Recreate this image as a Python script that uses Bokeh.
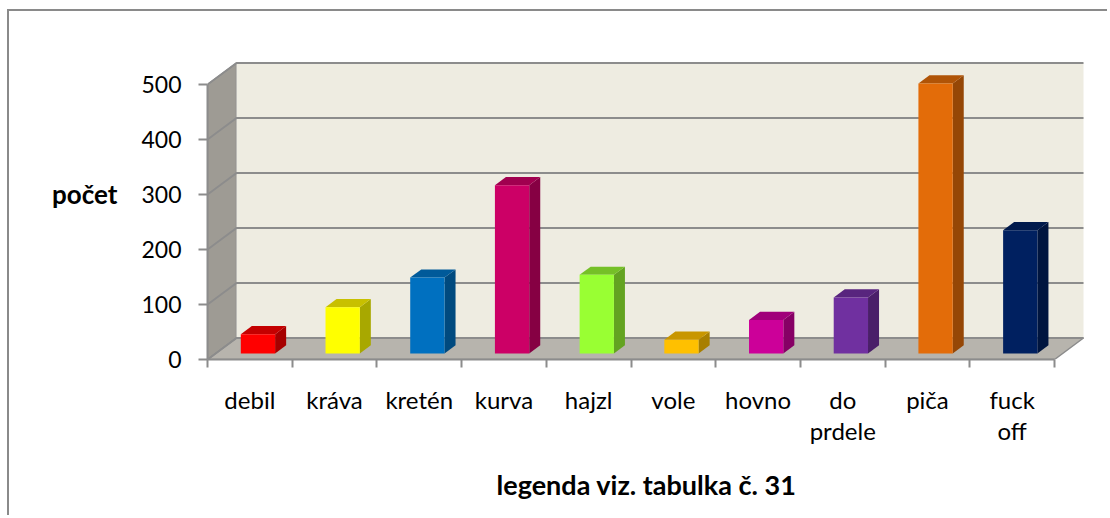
from bokeh.plotting import figure
from bokeh.models import Range1d, FixedTicker, ColumnDataSource
from bokeh.embed import file_html
from bokeh.resources import INLINE

# ---------------- data ----------------
categories = ["debil", "kráva", "kretén", "kurva", "hajzl", "vole", "hovno",
              "do\nprdele", "piča", "fuck\noff"]
values = [35, 84, 138, 306, 143, 25, 61, 102, 491, 224]
front_colors = ["#FF0000", "#FFFF00", "#0070C0", "#CC0066", "#99FF33",
                "#FFC000", "#CC0099", "#7030A0", "#E36C09", "#002060"]
side_colors = ["#A60000", "#A8A800", "#004A7F", "#860043", "#63A321",
               "#A87F00", "#860065", "#4A1F69", "#954706", "#00153F"]
top_colors = ["#C40000", "#C8C000", "#005A9A", "#A0004F", "#75C027",
              "#C89600", "#A0007A", "#58257E", "#B05407", "#001A4C"]
y_ticks = [0, 100, 200, 300, 400, 500]
y_title = "počet"
x_title = "legenda viz. tabulka č. 31"

# ---------------- layout / projection ----------------
FONT = "Lato"
PX_PER_CAT = 84.7
PX_PER_UNIT = 0.55
FRAME_W, FRAME_H = 878, 332
DX = 29 / PX_PER_CAT          # depth offset (category units)
DY = 21.5 / PX_PER_UNIT       # depth offset (value units)
Z0, Z1 = 0.28, 0.66           # bar front / back depth
BAR_W = 0.405
GRID = "#8c8c8c"

n = len(categories)
ymax = y_ticks[-1]

p = figure(frame_width=FRAME_W, frame_height=FRAME_H,
           x_range=Range1d(0, FRAME_W / PX_PER_CAT),
           y_range=Range1d(0, FRAME_H / PX_PER_UNIT),
           min_border_left=198, min_border_right=22,
           min_border_top=16, min_border_bottom=156,
           output_backend="svg", toolbar_location=None)
p.styles = {"border-left": "2px solid #8a8a8a", "border-top": "2px solid #8a8a8a",
            "margin-left": "7px", "margin-top": "9px"}
p.outline_line_color = None
p.xgrid.visible = False
p.ygrid.visible = False
p.background_fill_color = "white"
p.border_fill_color = "white"

# walls
walls = ColumnDataSource(dict(
    xs=[[0, DX, DX, 0], [DX, n + DX, n + DX, DX], [0, n, n + DX, DX]],
    ys=[[0, DY, ymax + DY, ymax], [DY, DY, ymax + DY, ymax + DY], [0, 0, DY, DY]],
    fill=["#9E9B94", "#EEECE1", "#B7B4AD"],
    line=[GRID, None, GRID],
))
p.patches("xs", "ys", source=walls, fill_color="fill", line_color="line", line_width=1.5)

# gridlines on back wall and side wall
gx, gy = [], []
for v in y_ticks:
    gx.append([0, DX, n + DX])
    gy.append([v, v + DY, v + DY])
p.multi_line(gx, gy, line_color=GRID, line_width=2)

# bars (front, side, top faces)
fx, fy, sx, sy, tx, ty = [], [], [], [], [], []
for i, v in enumerate(values):
    l = i + 0.5 - BAR_W / 2
    r = i + 0.5 + BAR_W / 2
    fx.append([l + Z0 * DX, r + Z0 * DX, r + Z0 * DX, l + Z0 * DX])
    fy.append([Z0 * DY, Z0 * DY, v + Z0 * DY, v + Z0 * DY])
    sx.append([r + Z0 * DX, r + Z1 * DX, r + Z1 * DX, r + Z0 * DX])
    sy.append([Z0 * DY, Z1 * DY, v + Z1 * DY, v + Z0 * DY])
    tx.append([l + Z0 * DX, r + Z0 * DX, r + Z1 * DX, l + Z1 * DX])
    ty.append([v + Z0 * DY, v + Z0 * DY, v + Z1 * DY, v + Z1 * DY])
p.patches(sx, sy, fill_color=side_colors, line_color=None)
p.patches(tx, ty, fill_color=top_colors, line_color=None)
p.patches(fx, fy, fill_color=front_colors, line_color=None)

# y axis
ya = p.yaxis[0]
ya.ticker = FixedTicker(ticks=y_ticks, minor_ticks=[])
ya.bounds = (0, ymax)
ya.axis_line_color = GRID
ya.axis_line_width = 2
ya.major_tick_line_color = GRID
ya.major_tick_line_width = 2
ya.major_tick_out = 9
ya.major_tick_in = 0
ya.major_label_standoff = 17
ya.major_label_text_font = FONT
ya.major_label_text_font_size = "23px"
ya.major_label_text_color = "#000000"
ya.axis_label = y_title
ya.axis_label_orientation = "horizontal"
ya.axis_label_standoff = 21
ya.axis_label_text_font = FONT
ya.axis_label_text_font_size = "26px"
ya.axis_label_text_font_style = "bold"
ya.axis_label_text_color = "#000000"

# x axis
xa = p.xaxis[0]
centers = [i + 0.5 for i in range(n)]
xa.ticker = FixedTicker(ticks=centers, minor_ticks=list(range(n + 1)))
xa.major_label_overrides = {c: lab for c, lab in zip(centers, categories)}
xa.bounds = (0, n)
xa.axis_line_color = GRID
xa.axis_line_width = 2
xa.major_tick_line_color = None
xa.major_tick_out = 0
xa.major_tick_in = 0
xa.minor_tick_line_color = GRID
xa.minor_tick_line_width = 2
xa.minor_tick_out = 8
xa.minor_tick_in = 0
xa.major_label_standoff = 17
xa.major_label_text_font = FONT
xa.major_label_text_font_size = "24px"
xa.major_label_text_color = "#000000"
xa.major_label_text_line_height = 1.1
xa.axis_label = x_title
xa.axis_label_text_font = FONT
xa.axis_label_text_font_size = "27px"
xa.axis_label_text_font_style = "bold"
xa.axis_label_text_color = "#000000"
xa.axis_label_standoff = 20

open("out.html", "w").write(file_html(p, INLINE))
